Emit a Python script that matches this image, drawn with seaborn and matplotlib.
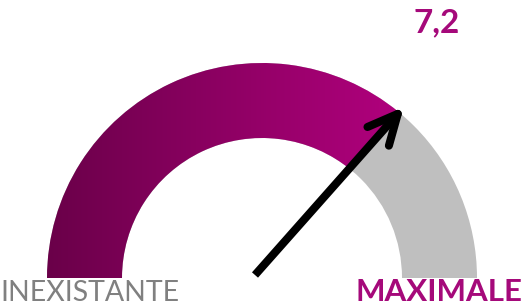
import numpy as np
import matplotlib
matplotlib.use("Agg")
import matplotlib.pyplot as plt
import seaborn as sns
from matplotlib.patches import Wedge
from matplotlib.colors import LinearSegmentedColormap

# Data
value = 7.2
value_label = "7,2"
scale_min, scale_max = 0, 10
label_min = "INEXISTANTE"
label_max = "MAXIMALE"

sns.set_style("white")
plt.rcParams['font.family'] = ['Lato', 'DejaVu Sans']

W, H = 526, 305
fig = plt.figure(figsize=(W / 100, H / 100), dpi=100)
ax = fig.add_axes([0, 0, 1, 1])
ax.set_xlim(0, W)
ax.set_ylim(0, H)
ax.axis("off")

cx, cy = 262, 27
r_out, r_in = 215, 140
frac = (value - scale_min) / (scale_max - scale_min)
ang = 180 - 180 * frac
t = np.deg2rad(ang)

# gray background arc
ax.add_patch(Wedge((cx, cy), r_out, 0, 180, width=r_out - r_in,
                   facecolor="#bfbfbf", edgecolor="none"))

# gradient filled part
cmap = LinearSegmentedColormap.from_list("g", ["#6a0049", "#b1007d"])
grad = np.linspace(0, 1, 256).reshape(1, -1)
x_right = cx + r_out * np.cos(t)
im = ax.imshow(grad, cmap=cmap, extent=[cx - r_out, x_right, cy, cy + r_out],
               aspect="auto", zorder=2)
w = Wedge((cx, cy), r_out, ang, 180, width=r_out - r_in,
          facecolor="none", edgecolor="none")
ax.add_patch(w)
im.set_clip_path(w)

# needle
d = np.array([np.cos(t), np.sin(t)])
start = np.array([cx - 7, cy + 3])
tip = np.array([cx, cy]) + d * (r_out - 2)
lw = 5.8
ax.plot([start[0], tip[0]], [start[1], tip[1]], color="black", lw=lw,
        solid_capstyle="butt", zorder=5)
for off in (-27, 24):
    a = t + np.pi + np.deg2rad(off)
    end = tip + 33 * np.array([np.cos(a), np.sin(a)])
    ax.plot([tip[0], end[0]], [tip[1], end[1]], color="black", lw=lw,
            solid_capstyle="round", zorder=5)

magenta = "#a5097a"
ax.text(437, H - 23, value_label, color=magenta, fontsize=24, fontweight="bold",
        ha="center", va="center")
ax.text(0, 4, label_min, color="#808080", fontsize=20.5, ha="left", va="baseline")
ax.text(522, 4, label_max, color=magenta, fontsize=22.5, fontweight="bold",
        ha="right", va="baseline")

fig.savefig("out.png", dpi=100)
